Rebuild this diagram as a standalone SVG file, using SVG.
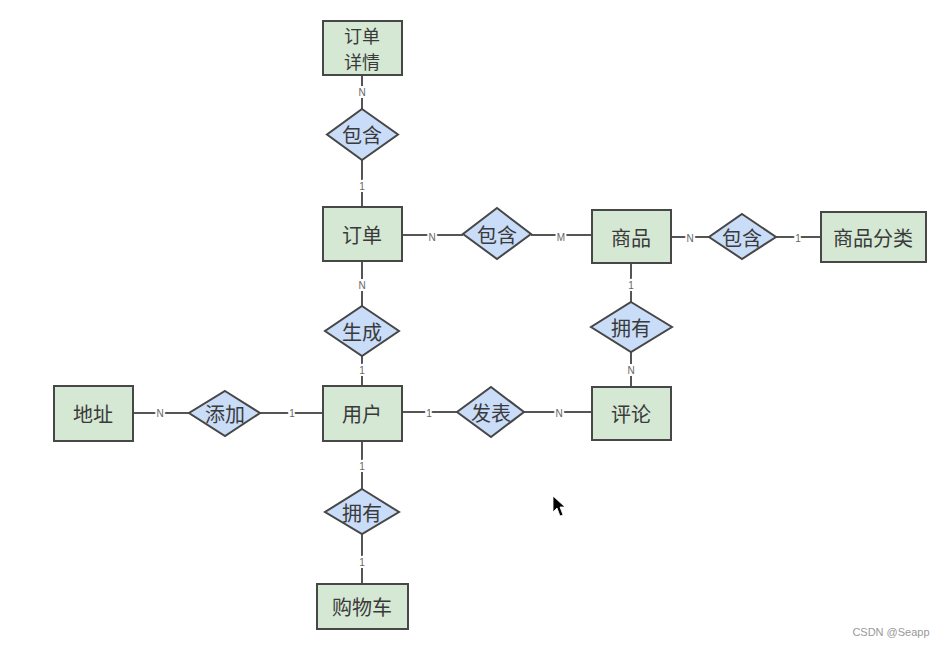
<svg xmlns="http://www.w3.org/2000/svg" width="943" height="648" viewBox="0 0 943 648">
<style>
.ent{fill:#d5e8d4;stroke:#474747;stroke-width:2}
.rel{fill:#c9dcf8;stroke:#474747;stroke-width:2}
.t{font-family:"Noto Sans CJK SC","Noto Sans",sans-serif;font-size:20px;fill:#3a3a3a;text-anchor:middle;dominant-baseline:central}
.ln{stroke:#555;stroke-width:2;fill:none}
.lb{font-family:"Liberation Sans",sans-serif;font-size:10px;fill:#666;text-anchor:middle;dominant-baseline:central;stroke:#fff;stroke-width:4px;paint-order:stroke}
</style>
<rect width="943" height="648" fill="#fff"/>
<g id="connectors">
<line class="ln" x1="362" y1="75" x2="362" y2="109"/>
<line class="ln" x1="362" y1="160" x2="362" y2="207"/>
<line class="ln" x1="402" y1="235" x2="463" y2="235"/>
<line class="ln" x1="531" y1="235" x2="592" y2="235"/>
<line class="ln" x1="671" y1="237" x2="709" y2="237"/>
<line class="ln" x1="776" y1="237" x2="821" y2="237"/>
<line class="ln" x1="631" y1="263" x2="631" y2="302"/>
<line class="ln" x1="631" y1="352" x2="631" y2="387"/>
<line class="ln" x1="362" y1="261" x2="362" y2="306"/>
<line class="ln" x1="362" y1="356" x2="362" y2="386"/>
<line class="ln" x1="133" y1="413" x2="189" y2="413"/>
<line class="ln" x1="260" y1="413" x2="323" y2="413"/>
<line class="ln" x1="402" y1="412" x2="457" y2="412"/>
<line class="ln" x1="524" y1="412" x2="592" y2="412"/>
<line class="ln" x1="362" y1="441" x2="362" y2="489"/>
<line class="ln" x1="362" y1="534" x2="362" y2="584"/>
<text class="lb" x="362" y="92">N</text>
<text class="lb" x="362" y="186">1</text>
<text class="lb" x="432" y="237">N</text>
<text class="lb" x="561" y="237">M</text>
<text class="lb" x="690" y="238">N</text>
<text class="lb" x="798" y="238">1</text>
<text class="lb" x="631" y="285">1</text>
<text class="lb" x="631" y="370">N</text>
<text class="lb" x="362" y="285">N</text>
<text class="lb" x="362" y="370">1</text>
<text class="lb" x="160" y="413">N</text>
<text class="lb" x="292" y="413">1</text>
<text class="lb" x="429" y="413">1</text>
<text class="lb" x="559" y="413">N</text>
<text class="lb" x="362" y="466">1</text>
<text class="lb" x="362" y="562">1</text>
</g>
<g id="order-detail"><rect class="ent" x="323" y="21" width="79" height="54"/><text class="t" x="362" y="35" style="font-size:18px">订单</text><text class="t" x="362" y="61" style="font-size:18px">详情</text></g>
<g id="contain-top"><polygon class="rel" points="362,109 398,134.5 362,160 327,134.5"/><text class="t" x="362" y="134">包含</text></g>
<g id="order"><rect class="ent" x="323" y="207" width="79" height="54"/><text class="t" x="362" y="234">订单</text></g>
<g id="contain-mid"><polygon class="rel" points="497,208 531,234 497,259 463,234"/><text class="t" x="497" y="234">包含</text></g>
<g id="goods"><rect class="ent" x="592" y="210" width="79" height="53"/><text class="t" x="631" y="237">商品</text></g>
<g id="contain-right"><polygon class="rel" points="742,214 776,237 742,259 709,237"/><text class="t" x="742" y="237">包含</text></g>
<g id="category"><rect class="ent" x="821" y="212" width="105" height="50"/><text class="t" x="873" y="237">商品分类</text></g>
<g id="has-right"><polygon class="rel" points="631,302 672,327 631,352 591,327"/><text class="t" x="631" y="327">拥有</text></g>
<g id="generate"><polygon class="rel" points="362,306 399,331 362,356 325,331"/><text class="t" x="362" y="331">生成</text></g>
<g id="address"><rect class="ent" x="54" y="386" width="79" height="55"/><text class="t" x="93" y="413">地址</text></g>
<g id="add"><polygon class="rel" points="225,391 260,413 225,436 189,413"/><text class="t" x="225" y="413">添加</text></g>
<g id="user"><rect class="ent" x="323" y="386" width="79" height="55"/><text class="t" x="362" y="413">用户</text></g>
<g id="publish"><polygon class="rel" points="491,387 524,412 491,437 457,412"/><text class="t" x="491" y="412">发表</text></g>
<g id="comment"><rect class="ent" x="592" y="387" width="79" height="53"/><text class="t" x="631" y="413">评论</text></g>
<g id="has-bottom"><polygon class="rel" points="362,489 399,512 362,534 325,512"/><text class="t" x="362" y="512">拥有</text></g>
<g id="cart"><rect class="ent" x="317" y="584" width="91" height="45"/><text class="t" x="362" y="606">购物车</text></g>
<polygon points="553,496 553,512 557,508 560,516 563,515 560,507 565,507" fill="#000" stroke="#fff" stroke-width="0.8"/>
<text x="891" y="636" font-family="Liberation Sans,sans-serif" font-size="11" fill="#999" text-anchor="middle">CSDN @Seapp</text>
</svg>
